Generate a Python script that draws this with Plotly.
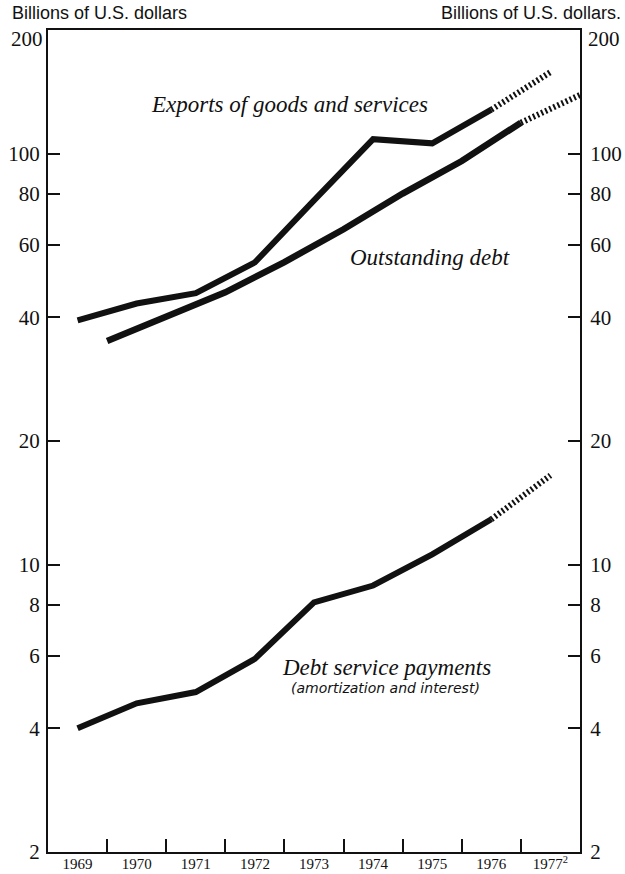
import math
import plotly.graph_objects as go

# ---- data (billions of U.S. dollars) ----
years = [1969, 1970, 1971, 1972, 1973, 1974, 1975, 1976]
exports = [39.3, 43.2, 45.8, 54.4, 77.0, 108.5, 106.0, 128.0]
exports_proj_years = [1976, 1977]
exports_proj = [128.0, 158.0]

debt_years = [1969.5, 1970.5, 1971.5, 1972.5, 1973.5, 1974.5, 1975.5, 1976.5]
outstanding_debt = [35.0, 40.0, 46.0, 54.5, 65.5, 80.0, 96.0, 119.0]
debt_proj_years = [1976.5, 1977.5]
debt_proj = [119.0, 139.0]

service_years = [1969, 1970, 1971, 1972, 1973, 1974, 1975, 1976]
debt_service = [4.0, 4.6, 4.9, 5.9, 8.1, 8.9, 10.6, 12.9]
service_proj_years = [1976, 1977]
service_proj = [12.9, 16.5]

x_labels = ["1969", "1970", "1971", "1972", "1973", "1974", "1975", "1976", "1977<sup>2</sup>"]
x_label_vals = [1969, 1970, 1971, 1972, 1973, 1974, 1975, 1976, 1977]
x_boundaries = [1969.5, 1970.5, 1971.5, 1972.5, 1973.5, 1974.5, 1975.5, 1976.5]
y_ticks = [2, 4, 6, 8, 10, 20, 40, 60, 80, 100, 200]
# the top value is printed just below the frame (see annotations)
y_ticktext = ["2", "4", "6", "8", "10", "20", "40", "60", "80", "100", ""]
top_label = "200"

INK = "#111111"
SERIF = "Liberation Serif, Times New Roman, serif"
SANS_N = "Liberation Sans Narrow, Liberation Sans, Arial, sans-serif"

fig = go.Figure()

def solid(x, y, w=6):
    fig.add_trace(go.Scatter(x=x, y=y, mode="lines", showlegend=False, hoverinfo="skip",
                             line=dict(color=INK, width=w)))

def hatched(x, y, w=6):
    fig.add_trace(go.Scatter(x=x, y=y, mode="lines", showlegend=False, hoverinfo="skip",
                             line=dict(color=INK, width=w, dash="2px,2.5px")))

solid(years, exports, 6)
hatched(exports_proj_years, exports_proj, 6)
solid(debt_years, outstanding_debt, 6.5)
hatched(debt_proj_years, debt_proj, 6)
solid(service_years, debt_service, 6)
hatched(service_proj_years, service_proj, 6)

# right axis carrier
fig.add_trace(go.Scatter(x=[None], y=[None], yaxis="y2", mode="lines", showlegend=False, hoverinfo="skip"))

yrange = [math.log10(2), math.log10(200)]
yax_common = dict(type="log", range=yrange, tickmode="array", tickvals=y_ticks, ticktext=y_ticktext,
                  ticks="inside", ticklen=12, tickwidth=1.5, tickcolor=INK, automargin=False,
                  showline=True, linewidth=2, linecolor=INK, showgrid=False, zeroline=False,
                  tickfont=dict(family=SERIF, size=21, color=INK))

fig.update_layout(
    width=625, height=874,
    margin=dict(l=48, r=45, t=30, b=22, autoexpand=False),
    paper_bgcolor="white", plot_bgcolor="white",
    xaxis=dict(range=[1968.5, 1977.5], tickmode="array", tickvals=x_label_vals, ticktext=x_labels,
               ticks="", showline=True, linewidth=2, linecolor=INK, mirror=True, automargin=False,
               showgrid=False, zeroline=False, ticklabelstandoff=-3,
               tickfont=dict(family=SERIF, size=15, color=INK),
               minor=dict(tickmode="array", tickvals=x_boundaries, ticks="inside", ticklen=13,
                          tickwidth=1.5, tickcolor=INK, showgrid=False)),
    yaxis=dict(side="left", ticklabelstandoff=2, **yax_common),
    yaxis2=dict(side="right", overlaying="y", anchor="x", ticklabelstandoff=4, **yax_common),
)

def note(text, x, y, size, family, italic=True, xanchor="center"):
    fig.add_annotation(text=text, x=x, y=y, xref="paper", yref="paper", showarrow=False,
                       xanchor=xanchor, yanchor="middle",
                       font=dict(family=family, size=size, color=INK,
                                 style="italic" if italic else "normal"))

def px_x(p):
    return (p - 48) / 532.0

def px_y(p):
    return (852 - p) / 822.0

note("Exports of goods and services", px_x(289), px_y(104), 23, SERIF)
note("Outstanding debt", px_x(430), px_y(257), 23, SERIF)
note("Debt service payments", px_x(386), px_y(667), 23, SERIF)
note("(amortization and interest)", px_x(385), px_y(688), 14, "DejaVu Sans, Verdana, sans-serif")

note("Billions of U.S. dollars", px_x(10), px_y(13), 18, SANS_N, italic=False, xanchor="left")
note("Billions of U.S. dollars.", px_x(623), px_y(13), 18, SANS_N, italic=False, xanchor="right")

note(top_label, px_x(45), px_y(39), 21, SERIF, italic=False, xanchor="right")
note(top_label, px_x(586), px_y(39), 21, SERIF, italic=False, xanchor="left")

fig.write_html("out.html", config={"displayModeBar": False},
               post_script="document.body.style.margin='0';document.body.style.overflow='hidden';")
